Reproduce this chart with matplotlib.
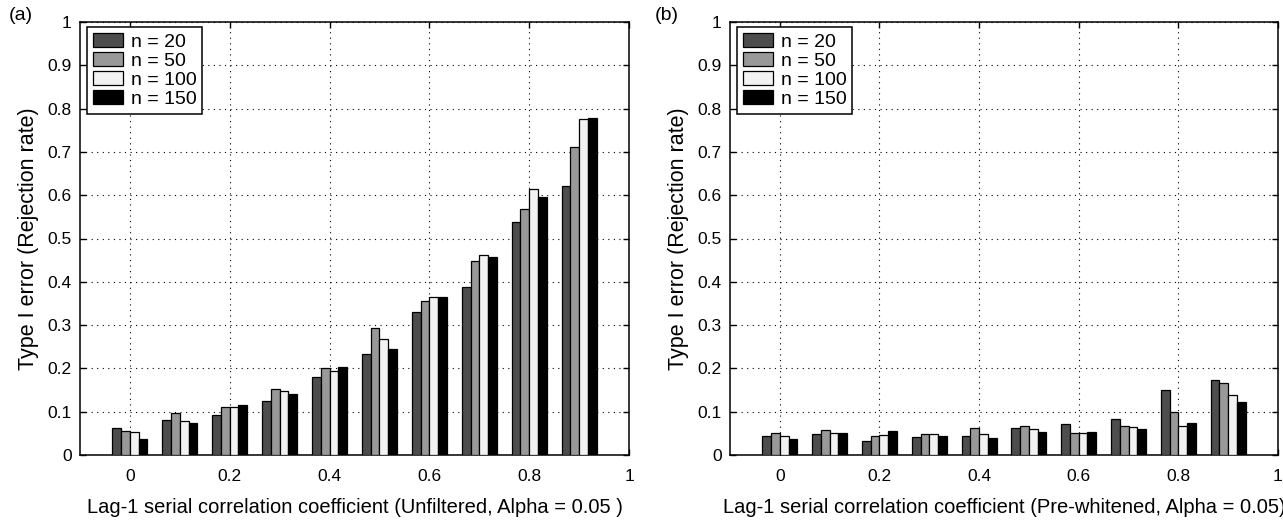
import matplotlib
matplotlib.use("Agg")
import matplotlib.pyplot as plt
from matplotlib.patches import Patch
import numpy as np

plt.rcParams['font.family'] = ['Liberation Sans', 'DejaVu Sans']

# lag-1 serial correlation coefficient
rho = [0.0, 0.1, 0.2, 0.3, 0.4, 0.5, 0.6, 0.7, 0.8, 0.9]
sizes = ["n = 20", "n = 50", "n = 100", "n = 150"]
colors = ["#4d4d4d", "#999999", "#f2f2f2", "#000000"]

# (a) unfiltered
unf_20 = [0.063, 0.080, 0.092, 0.125, 0.180, 0.234, 0.330, 0.388, 0.538, 0.621]
unf_50 = [0.055, 0.098, 0.112, 0.152, 0.202, 0.293, 0.355, 0.448, 0.567, 0.711]
unf_100 = [0.052, 0.078, 0.112, 0.148, 0.194, 0.269, 0.364, 0.462, 0.615, 0.775]
unf_150 = [0.037, 0.073, 0.115, 0.141, 0.204, 0.245, 0.364, 0.458, 0.595, 0.778]

# (b) pre-whitened
pw_20 = [0.043, 0.048, 0.033, 0.041, 0.044, 0.062, 0.071, 0.082, 0.151, 0.173]
pw_50 = [0.051, 0.058, 0.044, 0.048, 0.062, 0.066, 0.050, 0.066, 0.099, 0.167]
pw_100 = [0.045, 0.051, 0.046, 0.048, 0.048, 0.060, 0.050, 0.064, 0.068, 0.138]
pw_150 = [0.038, 0.051, 0.055, 0.044, 0.039, 0.052, 0.054, 0.061, 0.073, 0.122]

W, H = 1283, 520
fig = plt.figure(figsize=(W / 100, H / 100), dpi=100)


def panel(left_px, right_px, series, tag, tag_x, xlabel):
    ax = fig.add_axes([left_px / W, 65 / H, (right_px - left_px) / W, (455 - 22) / H])
    x = np.array(rho)
    bw = 0.0175
    for i, vals in enumerate(series):
        ax.bar(x + (i - 1.5) * bw, vals, width=bw, color=colors[i],
               edgecolor="black", linewidth=0.9, zorder=3)
    ax.set_xlim(-0.1, 1.0)
    ax.set_ylim(0, 1)
    ax.set_xticks([0, 0.2, 0.4, 0.6, 0.8, 1.0])
    ax.set_xticklabels(["0", "0.2", "0.4", "0.6", "0.8", "1"])
    yt = np.round(np.arange(0, 1.01, 0.1), 1)
    ax.set_yticks(yt)
    ax.set_yticklabels(["0"] + ["%.1f" % v for v in yt[1:-1]] + ["1"])
    ax.grid(True, linestyle=(0, (1, 4)), color="black", linewidth=0.8)
    ax.set_axisbelow(True)
    ax.tick_params(direction="in", top=True, right=True, length=4,
                   width=1, labelsize=12.5)
    ax.tick_params(axis="x", pad=10)
    ax.tick_params(axis="y", pad=6)
    for s in ax.spines.values():
        s.set_linewidth(1.1)
    ax.set_ylabel("Type I error (Rejection rate)", fontsize=15.5, labelpad=6)
    ax.set_xlabel(xlabel, fontsize=14.5, labelpad=10)
    handles = [Patch(facecolor=c, edgecolor="black", linewidth=0.9) for c in colors]
    leg = ax.legend(handles, sizes, loc="upper left",
                    bbox_to_anchor=(7 / (right_px - left_px), 1 - 5 / 433),
                    borderaxespad=0, fancybox=False, framealpha=1,
                    edgecolor="black", fontsize=14, handlelength=1.55,
                    handleheight=0.77, labelspacing=0.05, handletextpad=0.4,
                    borderpad=0.3)
    leg.get_frame().set_linewidth(1.1)
    fig.text(tag_x / W, 1 - 16 / H, tag, fontsize=14, ha="left", va="center")
    return ax


panel(80, 629, [unf_20, unf_50, unf_100, unf_150], "(a)", 9,
      "Lag-1 serial correlation coefficient (Unfiltered, Alpha = 0.05 )")
panel(730, 1278, [pw_20, pw_50, pw_100, pw_150], "(b)", 655,
      "Lag-1 serial correlation coefficient (Pre-whitened, Alpha = 0.05)")

fig.savefig("out.png", dpi=100)
